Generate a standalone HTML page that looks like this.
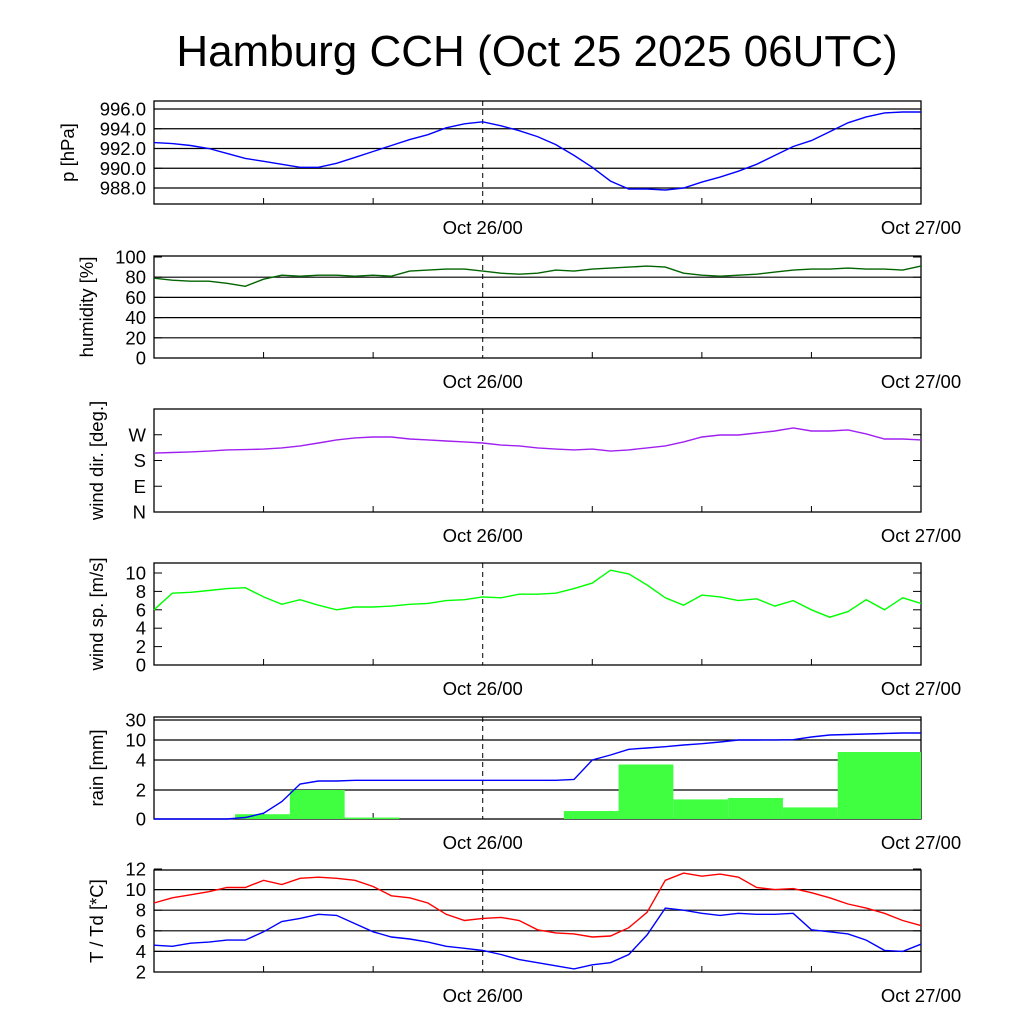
<!DOCTYPE html>
<html><head><meta charset="utf-8"><style>
body{margin:0;background:#fff}
svg text{font-family:"Liberation Sans",sans-serif}
</style></head><body>
<svg id="chart" width="1024" height="1024" viewBox="0 0 1024 1024" xmlns="http://www.w3.org/2000/svg">
<rect width="1024" height="1024" fill="#fff"/>
<text x="537" y="66" font-size="44" text-anchor="middle">Hamburg CCH (Oct 25 2025 06UTC)</text>
</svg>
<script>
const hours = [0,1,2,3,4,5,6,7,8,9,10,11,12,13,14,15,16,17,18,19,20,21,22,23,24,25,26,27,28,29,30,31,32,33,34,35,36,37,38,39,40,41,42];
const pressure = [992.6,992.5,992.3,992.0,991.5,991.0,990.7,990.4,990.1,990.1,990.5,991.1,991.7,992.3,992.9,993.4,994.1,994.5,994.7,994.3,993.8,993.2,992.4,991.3,990.1,988.7,987.9,987.9,987.8,988.0,988.6,989.1,989.7,990.4,991.3,992.2,992.8,993.7,994.6,995.2,995.6,995.7,995.7];
const humidity = [79,77,76,76,74,71,78,82,81,82,82,81,82,81,86,87,88,88,86,84,83,84,87,86,88,89,90,91,90,84,82,81,82,83,85,87,88,88,89,88,88,87,91];
const windDir = [206,208,210,213,217,218,220,224,231,241,252,259,262,262,255,252,248,245,241,234,231,224,220,217,220,213,217,224,231,245,262,269,269,276,283,294,283,283,287,273,255,255,252];
const windSpeed = [6.0,7.8,7.9,8.1,8.3,8.4,7.4,6.6,7.1,6.5,6.0,6.3,6.3,6.4,6.6,6.7,7.0,7.1,7.4,7.3,7.7,7.7,7.8,8.3,8.9,10.3,9.9,8.7,7.3,6.5,7.6,7.4,7.0,7.2,6.4,7.0,6.0,5.2,5.8,7.1,6.0,7.3,6.7];
const rainCum = [0,0,0,0,0,0.1,0.4,1.2,2.4,2.6,2.6,2.65,2.65,2.65,2.65,2.65,2.65,2.65,2.65,2.65,2.65,2.65,2.65,2.7,4.0,5.5,7.2,7.6,8.0,8.5,8.9,9.4,10.0,10.0,10.1,10.3,13.0,15.0,15.5,16.0,16.5,17.0,17.0];
const rainBarStart = [4.44,7.44,10.44,22.44,25.44,28.44,31.44,34.44,37.44];
const rainBarDur = [3,3,3,3,3,3,3,3,4.56];
const rainBarVal = [0.33,2.0,0.1,0.55,3.7,1.35,1.45,0.8,6.4];
const temp = [8.7,9.2,9.5,9.8,10.2,10.2,10.9,10.5,11.1,11.2,11.1,10.9,10.3,9.4,9.2,8.7,7.6,7.0,7.2,7.3,7.0,6.1,5.8,5.7,5.4,5.5,6.3,7.8,10.9,11.6,11.3,11.5,11.2,10.2,10.0,10.1,9.7,9.2,8.6,8.2,7.7,7.0,6.5];
const dew = [4.6,4.5,4.8,4.9,5.1,5.1,5.9,6.9,7.2,7.6,7.5,6.7,5.9,5.4,5.2,4.9,4.5,4.3,4.1,3.7,3.2,2.9,2.6,2.3,2.7,2.9,3.7,5.6,8.2,8.0,7.7,7.5,7.7,7.6,7.6,7.7,6.1,5.9,5.7,5.1,4.1,4.0,4.7];
const pTicks=[988,990,992,994,996], pLabels=["988.0","990.0","992.0","994.0","996.0"];
const hTicks=[0,20,40,60,80,100];
const dTicks=[0,90,180,270], dLabels=["N","E","S","W"];
const sTicks=[0,2,4,6,8,10];
const rTicks=[0,2,4,10,30];
const tTicks=[2,4,6,8,10,12];

const svg=document.getElementById('chart');
const NS='http://www.w3.org/2000/svg';
const X0=154,X1=921;
const x=h=>X0+(X1-X0)*h/42;
function el(tag,attrs,parent){const e=document.createElementNS(NS,tag);for(const k in attrs)e.setAttribute(k,attrs[k]);(parent||svg).appendChild(e);return e;}
function lin(v0,v1,y0,y1){return v=>y0+(v-v0)*(y1-y0)/(v1-v0);}
const rV=[0,2,4,10,30,40], rY=[819,790,760,740,720,713];
function rainY(v){for(let i=0;i<rV.length-1;i++){if(v<=rV[i+1]){return rY[i]+(v-rV[i])*(rY[i+1]-rY[i])/(rV[i+1]-rV[i]);}}return rY[rY.length-1];}

function panel(name,top,bot,yf,ticks,labels,ylabel,grid,titleX){
  const g=el('g',{});
  
  
  if(grid){ticks.forEach(t=>{const yy=yf(t);if(yy>top+1&&yy<bot-1){const l=el('line',{x1:X0,x2:X1,y1:yy,y2:yy,stroke:'#000','stroke-width':1.2},g);}});}
  ticks.forEach((t,i)=>{const yy=yf(t);
    el('line',{x1:X0,x2:X0+8,y1:yy,y2:yy,stroke:'#000'},g);el('line',{x1:X1-8,x2:X1,y1:yy,y2:yy,stroke:'#000'},g);
    const tx=el('text',{x:X0-8,y:yy+6.5,'font-size':18.5,'text-anchor':'end'},g);tx.textContent=labels?labels[i]:String(t);
    });
  [6,12,24,30,36].forEach(h=>{el('line',{x1:x(h),x2:x(h),y1:bot,y2:bot-6,stroke:'#000'},g);});
  el('line',{x1:x(18),x2:x(18),y1:top,y2:bot,stroke:'#000','stroke-dasharray':'5,4'},g);
  const fr=el('rect',{x:X0,y:top,width:X1-X0,height:bot-top,fill:'none',stroke:'#000','stroke-width':1.3},g);
  
  const yl=el('text',{x:0,y:0,'font-size':18.5,'text-anchor':'middle',transform:`translate(${titleX},${(top+bot)/2}) rotate(-90)`},g);
  yl.textContent=ylabel;
  [[18,'Oct 26/00'],[42,'Oct 27/00']].forEach(([h,s])=>{const t=el('text',{x:x(h),y:bot+30,'font-size':18.5,'text-anchor':'middle'},g);t.textContent=s;});
  return g;
}
function line(g,vals,yf,color,name){
  const p=el('polyline',{points:vals.map((v,i)=>x(hours[i]).toFixed(1)+','+yf(v).toFixed(1)).join(' '),fill:'none',stroke:color,'stroke-width':1.4},g);
  
}
let g,yf;
yf=lin(988,996,188,109);g=panel('pressure',101,204,yf,pTicks,pLabels,'p [hPa]',true,74);line(g,pressure,yf,'#00f','pressure-line');
yf=lin(0,100,358,257);g=panel('humidity',256,358,yf,hTicks,null,'humidity [%]',true,93);line(g,humidity,yf,'#006400','humidity-line');
yf=lin(0,360,512,409);g=panel('wind-dir',409,512,yf,dTicks,dLabels,'wind dir. [deg.]',false,103);line(g,windDir,yf,'#a020f0','wind-dir-line');
yf=lin(0,10,665,573);g=panel('wind-speed',563,665,yf,sTicks,null,'wind sp. [m/s]',false,103);line(g,windSpeed,yf,'#00ff00','wind-speed-line');
g=panel('rain',717,819,rainY,rTicks,null,'rain [mm]',true,103);
rainBarVal.forEach((v,i)=>{const r=el('rect',{x:x(rainBarStart[i]),y:rainY(v),width:x(rainBarStart[i]+rainBarDur[i])-x(rainBarStart[i]),height:819-rainY(v),fill:'#40ff40'},g);
  });
line(g,rainCum,rainY,'#00f','rain-cumulative-line');
yf=lin(2,12,972,869);g=panel('temperature',870,972,yf,tTicks,null,'T / Td [*C]',true,103);line(g,temp,yf,'#f00','temperature-line');line(g,dew,yf,'#00f','dewpoint-line');
</script>
</body></html>
